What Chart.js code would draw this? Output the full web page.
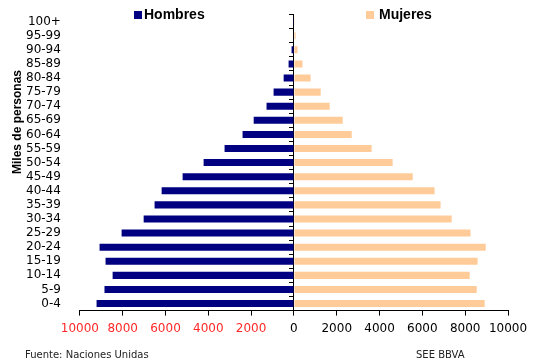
<!DOCTYPE html>
<html>
<head>
<meta charset="utf-8">
<script src="https://cdn.jsdelivr.net/npm/chart.js@4"></script>
<style>
  body { margin: 0; background: #fff; }
  canvas { display: block; }
</style>
</head>
<body>
<canvas id="piramide" width="535" height="363"></canvas>
<script>
// Grupos de edad (de arriba a abajo)
const grupos = ['100+', '95-99', '90-94', '85-89', '80-84', '75-79', '70-74', '65-69', '60-64', '55-59',
    '50-54', '45-49', '40-44', '35-39', '30-34', '25-29', '20-24', '15-19', '10-14', '5-9', '0-4'];

// Miles de personas
const hombres = [5, 30, 110, 250, 480, 950, 1280, 1880, 2400, 3240,
    4220, 5200, 6180, 6510, 7020, 8050, 9080, 8800, 8470, 8850, 9220];
const mujeres = [10, 80, 170, 400, 780, 1250, 1670, 2280, 2700, 3630,
    4610, 5550, 6570, 6850, 7370, 8250, 8960, 8580, 8210, 8540, 8910];

const limiteX = 10000;
const pasoX = 2000;

const colorHombres = '#000080';
const colorMujeres = '#ffcc99';

// Textos fuera del area del grafico: leyenda, titulo del eje y pie
const textosExtra = {
    id: 'textosExtra',
    afterDraw(chart) {
        const ctx = chart.ctx;
        ctx.save();
        ctx.textBaseline = 'middle';

        // leyenda
        ctx.font = 'bold 14px "Liberation Sans", Arial, sans-serif';
        ctx.fillStyle = colorHombres;
        ctx.fillRect(134, 11, 8, 8);
        ctx.fillStyle = '#000';
        ctx.textAlign = 'left';
        ctx.fillText(chart.data.datasets[0].label, 144, 15);
        ctx.fillStyle = colorMujeres;
        ctx.fillRect(366, 11, 8, 8);
        ctx.fillStyle = '#000';
        ctx.fillText(chart.data.datasets[1].label, 379, 15);

        // titulo eje y
        ctx.save();
        ctx.translate(18, 122);
        ctx.rotate(-Math.PI / 2);
        ctx.textAlign = 'center';
        ctx.font = 'bold 12px "Liberation Sans", Arial, sans-serif';
        ctx.fillText('Miles de personas', 0, 0);
        ctx.restore();

        // pie
        ctx.font = '10px "DejaVu Sans", Verdana, sans-serif';
        ctx.fillStyle = '#222';
        ctx.textAlign = 'left';
        ctx.fillText('Fuente: Naciones Unidas', 25, 355);
        ctx.fillText('SEE BBVA', 416, 355);
        ctx.restore();
    }
};

new Chart(document.getElementById('piramide'), {
    type: 'bar',
    data: {
        labels: grupos,
        datasets: [{
            label: 'Hombres',
            data: hombres.map(v => -v),
            backgroundColor: colorHombres,
            barPercentage: 0.5,
            categoryPercentage: 1
        }, {
            label: 'Mujeres',
            data: mujeres,
            backgroundColor: colorMujeres,
            barPercentage: 0.5,
            categoryPercentage: 1
        }]
    },
    options: {
        responsive: false,
        animation: false,
        indexAxis: 'y',
        layout: {
            padding: { left: 15, right: 27, top: 11, bottom: 21 }
        },
        plugins: {
            legend: { display: false },
            tooltip: { enabled: false }
        },
        scales: {
            x: {
                stacked: true,
                min: -limiteX,
                max: limiteX,
                ticks: {
                    stepSize: pasoX,
                    padding: 6,
                    maxRotation: 0,
                    minRotation: 0,
                    autoSkip: false,
                    font: { family: '"DejaVu Sans", Verdana, sans-serif', size: 12 },
                    color: c => c.tick && c.tick.value < 0 ? '#ff2828' : '#000',
                    callback: v => Math.abs(v)
                },
                grid: {
                    drawOnChartArea: false,
                    tickLength: 5,
                    tickColor: '#000'
                },
                border: { color: '#000' }
            },
            y: {
                stacked: true,
                ticks: {
                    padding: 11,
                    autoSkip: false,
                    font: { family: '"DejaVu Sans", Verdana, sans-serif', size: 12, lineHeight: 0.6 },
                    color: '#000'
                },
                grid: { display: false },
                border: { display: false }
            },
            y2: {
                type: 'category',
                axis: 'y',
                position: { x: 0 },
                offset: true,
                ticks: { display: false },
                grid: {
                    offset: true,
                    drawOnChartArea: false,
                    tickLength: 4,
                    tickColor: '#000'
                },
                border: { color: '#000' }
            }
        }
    },
    plugins: [textosExtra]
});
</script>
</body>
</html>
